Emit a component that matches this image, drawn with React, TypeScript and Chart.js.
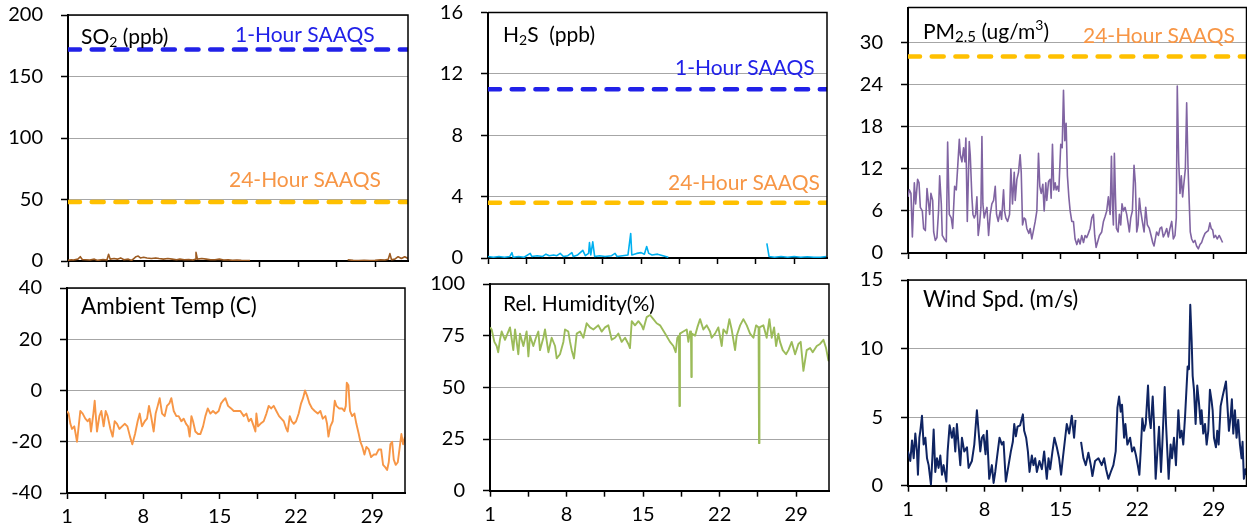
import React, { useEffect, useRef } from 'react';
import { Chart, registerables } from 'chart.js';
Chart.register(...registerables);

const W = 1247;
const H = 525;
const OFF = 30;
const EXTRA = 30;
const XAXIS_H = 40;
const FONT = 'Lato';

type Pt = [number, number | null];

// x axis (day of month)
const X_MIN = 1;
const X_MAX = 32;
const DAY_TICKS = [1, 4.5, 8, 11.5, 15, 18.5, 22, 25.5, 29];
const DAY_LABELS = [1, 8, 15, 22, 29];

// y ticks
const SO2_TICKS = [0, 50, 100, 150, 200];
const H2S_TICKS = [0, 4, 8, 12, 16];
const PM_TICKS = [0, 6, 12, 18, 24, 30];
const TEMP_TICKS = [-40, -20, 0, 20, 40];
const RH_TICKS = [0, 25, 50, 75, 100];
const WIND_TICKS = [0, 5, 10, 15];

// standards
const SO2_1H = 172;
const SO2_24H = 48;
const H2S_1H = 11;
const H2S_24H = 3.6;
const PM25_24H = 28;

const so2: Pt[] = [
  [1.0, 0.5], [1.3, 1], [1.5, 0.8], [1.9, 1.5], [2.12, 3.5], [2.3, 1.2], [2.6, 1], [3.0, 0.8], [3.4, 1.5], [3.7, 0.5],
  [4.2, 1.2], [4.55, 0.8], [4.7, 5.5], [4.85, 1.5], [5.2, 2], [5.5, 1.5], [5.8, 2.5], [6.1, 1], [6.5, 1.5], [6.8, 0.5],
  [7.0, 2], [7.2, 3.5], [7.4, 4], [7.6, 2.5], [7.9, 3], [8.2, 2.5], [8.6, 2], [9.0, 2.5], [9.3, 2], [9.7, 1.5],
  [10.1, 2], [10.5, 1.5], [10.9, 1], [11.2, 1.5], [11.6, 1], [12.0, 1.2], [12.4, 0.8], [12.6, 1.5], [12.67, 7], [12.8, 1.5],
  [13.2, 2], [13.6, 1.5], [14.0, 1], [14.4, 1], [14.8, 1.5], [15.2, 0.8], [15.6, 1], [16.0, 0.5], [16.4, 0.8], [16.8, 0.5],
  [17.2, 0.3], [17.6, 0.3], [22, null],
  [26.5, 1], [27.0, 0.5], [27.5, 0.3], [28.0, 0.5], [28.5, 0.3], [29.0, 0.5], [29.5, 1], [29.9, 0.8], [30.2, 1.5], [30.35, 6],
  [30.5, 1], [30.8, 1.5], [31.1, 3.5], [31.4, 2], [31.7, 3.5], [32.0, 2],
];

const h2s: Pt[] = [
  [1.0, 0.1], [1.5, 0.05], [2.0, 0.1], [2.5, 0.05], [3.0, 0.1], [3.19, 0.35], [3.3, 0.05], [3.8, 0.1], [4.3, 0.05], [4.86, 0.3],
  [5.0, 0.1], [5.5, 0.15], [6.0, 0.1], [6.3, 0.25], [6.6, 0.15], [7.0, 0.2], [7.3, 0.15], [7.6, 0.3], [7.9, 0.1], [8.3, 0.15],
  [8.67, 0.35], [8.8, 0.1], [9.2, 0.2], [9.67, 0.5], [9.9, 0.15], [10.2, 0.3], [10.28, 1.0], [10.4, 0.2], [10.58, 1.05], [10.75, 0.1],
  [11.2, 0.15], [11.7, 0.1], [12.3, 0.15], [12.62, 0.3], [12.8, 0.1], [13.3, 0.15], [13.8, 0.2], [14.05, 1.6], [14.15, 0.2], [14.6, 0.3],
  [15.0, 0.35], [15.3, 0.25], [15.51, 0.75], [15.7, 0.3], [16.0, 0.2], [16.5, 0.25], [17.0, 0.15], [17.49, 0.05], [22, null],
  [26.5, 0.95], [26.7, 0.1], [27.2, 0.05], [27.8, 0.1], [28.4, 0.05], [29.0, 0.1], [29.6, 0.05], [30.2, 0.08], [30.8, 0.05], [31.4, 0.05], [31.94, 0.1],
];

const pm25: Pt[] = [
  [1.00, 8], [1.12, 9], [1.27, 8.5], [1.40, 2.3], [1.58, 10], [1.70, 7], [1.88, 10.5], [2.01, 10], [2.13, 6.5], [2.31, 6],
  [2.43, 3.5], [2.59, 3.2], [2.74, 9.2], [2.89, 7], [2.98, 5.5], [3.10, 8.5], [3.26, 7.5], [3.35, 3], [3.50, 1.8], [3.65, 2.2],
  [3.80, 6], [3.90, 11], [4.05, 7], [4.14, 2.5], [4.32, 2], [4.51, 1.6], [4.63, 15.8], [4.78, 5.5], [4.96, 5], [5.09, 3.5],
  [5.27, 9.5], [5.42, 9], [5.54, 12], [5.70, 16.2], [5.79, 14], [5.94, 13], [6.09, 15], [6.21, 13], [6.30, 16.4], [6.43, 4.5],
  [6.61, 15.9], [6.70, 14], [6.85, 8], [6.95, 5.5], [7.07, 5], [7.19, 5.5], [7.31, 8], [7.43, 2.5], [7.55, 4], [7.68, 6.5],
  [7.77, 16.6], [7.86, 7], [7.98, 5], [8.13, 6], [8.23, 6.5], [8.38, 2.5], [8.53, 5.5], [8.68, 7], [8.84, 7.5], [8.99, 9.5],
  [9.11, 5.5], [9.26, 4.5], [9.45, 6], [9.57, 4.8], [9.75, 9], [9.84, 6], [9.96, 5], [10.12, 4.5], [10.30, 5.5], [10.42, 12],
  [10.57, 7], [10.73, 11.5], [10.82, 7.5], [10.97, 10.5], [11.12, 11.5], [11.27, 14], [11.37, 11.5], [11.49, 4], [11.64, 5], [11.76, 4.8],
  [11.88, 3.5], [12.07, 2.8], [12.19, 3.5], [12.34, 2], [12.49, 3.2], [12.65, 4.5], [12.80, 6], [12.95, 14.2], [13.07, 9.5], [13.20, 8.5],
  [13.35, 9.8], [13.47, 6], [13.62, 10], [13.71, 7.5], [13.87, 10.2], [14.02, 10.5], [14.11, 7.8], [14.23, 15.5], [14.35, 9], [14.48, 10],
  [14.57, 9], [14.69, 9.5], [14.81, 8.8], [14.99, 15.5], [15.12, 15], [15.24, 23.2], [15.36, 16], [15.48, 18.5], [15.60, 11], [15.73, 8],
  [15.85, 6], [16.00, 4.5], [16.15, 4.5], [16.30, 2], [16.46, 1.2], [16.61, 2], [16.76, 1.3], [16.91, 2.5], [17.07, 1.5], [17.22, 2.5],
  [17.37, 2.2], [17.52, 2.8], [17.68, 3.5], [17.83, 5], [17.98, 5.5], [18.10, 2.5], [18.23, 0.8], [18.35, 1.5], [18.53, 2.5], [18.74, 3],
  [18.90, 4.5], [19.05, 5.2], [19.20, 6], [19.35, 8], [19.51, 5.5], [19.63, 13.8], [19.72, 7], [19.81, 4], [19.90, 14.2], [20.00, 8],
  [20.09, 3.5], [20.24, 3], [20.36, 5.5], [20.48, 4], [20.60, 7], [20.73, 6], [20.88, 6.5], [21.03, 5.5], [21.18, 4], [21.27, 3],
  [21.40, 5], [21.55, 6], [21.70, 12.5], [21.82, 10], [21.95, 3], [22.07, 4], [22.19, 7.8], [22.31, 6], [22.46, 4.5], [22.62, 3],
  [22.77, 6.5], [22.92, 4], [23.10, 3.5], [23.26, 2.5], [23.41, 1.5], [23.53, 1], [23.65, 2], [23.77, 3], [23.93, 2.5], [24.08, 3.5],
  [24.23, 3.7], [24.38, 2.3], [24.54, 2.8], [24.69, 3.5], [24.84, 2.3], [24.99, 3.5], [25.15, 4.5], [25.30, 2], [25.45, 2.5], [25.57, 5],
  [25.66, 23.8], [25.79, 13], [25.91, 8.5], [26.03, 11], [26.15, 8], [26.24, 9.5], [26.40, 12], [26.52, 21.4], [26.64, 12.5], [26.76, 7],
  [26.85, 3], [26.98, 2], [27.13, 1.5], [27.28, 1.8], [27.43, 1], [27.59, 0.6], [27.74, 1.2], [27.89, 1.5], [28.04, 2.2], [28.20, 2.8],
  [28.35, 3], [28.50, 3.2], [28.65, 4.3], [28.77, 3.5], [28.90, 3.3], [29.02, 2.2], [29.17, 2.5], [29.32, 2], [29.50, 2.5], [29.66, 2],
  [29.81, 1.5],
];

const temp: Pt[] = [
  [1.00, -8], [1.15, -9], [1.31, -13], [1.46, -15], [1.67, -14], [1.92, -20], [2.22, -8], [2.44, -9], [2.68, -11], [2.90, -12],
  [3.08, -11], [3.20, -16], [3.42, -9], [3.54, -4], [3.75, -16], [3.97, -10], [4.15, -8], [4.36, -14], [4.55, -8], [4.73, -10],
  [4.98, -15], [5.19, -18], [5.37, -12], [5.59, -13], [5.80, -15], [6.05, -14], [6.29, -13], [6.54, -14], [6.78, -18], [6.99, -21],
  [7.24, -17], [7.48, -12], [7.67, -9], [7.88, -14], [8.13, -12], [8.34, -11], [8.52, -6], [8.71, -10], [8.95, -16], [9.13, -9],
  [9.32, -6], [9.50, -3], [9.72, -9], [9.96, -10], [10.17, -6], [10.39, -5], [10.57, -3], [10.79, -8], [11.03, -10], [11.24, -10],
  [11.49, -12], [11.70, -11], [11.92, -13], [12.10, -14], [12.25, -18], [12.41, -10], [12.56, -12], [12.77, -16], [13.02, -17], [13.23, -17],
  [13.48, -14], [13.69, -10], [13.91, -7], [14.15, -9], [14.39, -8], [14.64, -9], [14.91, -8], [15.13, -5], [15.31, -4], [15.53, -3],
  [15.77, -6], [16.05, -7], [16.29, -8], [16.60, -8], [16.90, -8], [17.21, -10], [17.45, -9], [17.67, -12], [17.88, -11], [18.13, -14],
  [18.28, -16], [18.37, -9], [18.52, -14], [18.74, -13], [19.04, -12], [19.29, -9], [19.50, -6], [19.72, -7], [19.96, -6], [20.20, -8],
  [20.45, -10], [20.66, -11], [20.88, -12], [21.12, -15], [21.24, -16], [21.43, -10], [21.61, -12], [21.80, -13], [22.01, -12], [22.25, -9],
  [22.47, -5], [22.65, -3], [22.83, 0], [23.02, -2], [23.23, -5], [23.48, -7], [23.72, -8], [24.00, -9], [24.24, -8], [24.46, -11],
  [24.70, -10], [24.85, -13], [24.98, -18], [25.16, -14], [25.37, -12], [25.56, -4], [25.71, -6], [25.95, -7], [26.23, -7], [26.44, -8],
  [26.57, -6], [26.66, 3], [26.81, 2], [26.96, -8], [27.15, -10], [27.36, -9], [27.54, -13], [27.76, -17], [27.91, -20], [28.09, -22],
  [28.28, -25], [28.46, -22], [28.68, -23], [28.89, -26], [29.13, -25], [29.35, -25], [29.59, -23], [29.81, -23], [29.99, -29], [30.20, -30],
  [30.36, -31], [30.51, -28], [30.66, -21], [30.82, -20], [30.97, -27], [31.15, -29], [31.34, -28], [31.52, -22], [31.67, -17], [31.83, -21],
  [32.00, -18],
];

const rh: Pt[] = [
  [1.00, 79], [1.15, 78], [1.40, 72], [1.61, 70], [1.75, 67], [1.91, 73], [2.07, 77], [2.37, 73], [2.60, 76], [2.83, 79],
  [3.13, 68], [3.29, 78], [3.59, 66], [3.74, 76], [4.05, 70], [4.35, 77], [4.51, 65], [4.66, 75], [4.96, 70], [5.20, 74],
  [5.42, 77], [5.57, 68], [5.88, 74], [6.03, 78], [6.34, 67], [6.64, 74], [6.95, 70], [7.10, 64], [7.40, 66], [7.71, 72],
  [7.86, 78], [8.16, 77], [8.32, 72], [8.47, 68], [8.68, 64], [8.93, 76], [9.23, 77], [9.54, 74], [9.84, 81], [10.15, 79],
  [10.45, 78], [10.91, 80], [11.21, 77], [11.52, 79], [11.82, 80], [12.13, 73], [12.43, 74], [12.74, 76], [13.04, 72], [13.35, 74],
  [13.65, 71], [13.80, 69], [13.96, 82], [14.26, 80], [14.57, 82], [14.87, 80], [15.02, 78], [15.33, 84], [15.63, 85], [15.94, 83],
  [16.24, 81], [16.55, 80], [17.01, 76], [17.46, 72], [17.77, 70], [17.98, 67], [18.13, 74], [18.28, 75], [18.32, 41], [18.37, 76],
  [18.68, 77], [18.99, 78], [19.14, 72], [19.29, 77], [19.38, 76], [19.41, 55], [19.45, 76], [19.75, 75], [19.96, 79], [20.21, 83],
  [20.51, 78], [20.82, 80], [21.12, 77], [21.27, 74], [21.58, 76], [21.88, 79], [22.19, 70], [22.34, 78], [22.65, 76], [22.89, 83],
  [23.10, 78], [23.41, 68], [23.56, 75], [23.87, 80], [24.17, 83], [24.48, 80], [24.78, 76], [25.09, 74], [25.33, 80], [25.56, 79],
  [25.60, 23], [25.64, 79], [26.00, 80], [26.30, 74], [26.55, 83], [26.76, 74], [26.98, 79], [27.16, 70], [27.37, 76], [27.52, 72],
  [27.77, 68], [28.07, 66], [28.29, 68], [28.59, 72], [28.90, 66], [29.20, 71], [29.41, 72], [29.66, 58], [29.96, 68], [30.27, 69],
  [30.51, 67], [30.88, 70], [31.18, 71], [31.49, 73], [31.73, 69], [31.95, 63], [32.00, 66],
];

const wind: Pt[] = [
  [1.00, 2.5], [1.21, 1.8], [1.37, 3.3], [1.52, 2.0], [1.67, 3.8], [1.82, 2.5], [1.91, 0.8], [2.04, 3.5], [2.13, 4.0], [2.28, 5.1],
  [2.43, 3.0], [2.59, 3.5], [2.74, 2.0], [2.89, 1.5], [3.10, 0.1], [3.23, 2.0], [3.35, 4.1], [3.50, 1.0], [3.65, 2.0], [3.80, 1.3],
  [3.96, 2.2], [4.11, 0.8], [4.26, 1.5], [4.51, 0.3], [4.63, 2.5], [4.81, 4.4], [5.02, 3.5], [5.18, 4.2], [5.33, 2.5], [5.48, 4.5],
  [5.63, 3.0], [5.79, 1.5], [5.94, 3.5], [6.15, 2.5], [6.40, 2.8], [6.55, 1.3], [6.85, 1.8], [7.07, 3.0], [7.31, 5.5], [7.46, 4.0],
  [7.62, 2.5], [7.77, 3.5], [7.92, 3.7], [8.10, 2.3], [8.23, 4.0], [8.44, 0.5], [8.68, 1.5], [8.84, 0.2], [8.99, 1.0], [9.14, 2.0],
  [9.38, 3.5], [9.60, 3.0], [9.75, 3.2], [9.96, 0.3], [10.21, 1.5], [10.42, 2.5], [10.60, 3.2], [10.73, 4.5], [10.88, 3.6], [11.03, 4.3],
  [11.27, 4.4], [11.52, 5.2], [11.64, 4.0], [11.82, 3.5], [11.98, 2.5], [12.13, 1.0], [12.34, 2.2], [12.49, 1.5], [12.65, 2.0], [12.80, 1.0],
  [13.04, 1.8], [13.26, 1.2], [13.47, 2.5], [13.71, 0.5], [13.87, 2.0], [14.02, 1.2], [14.23, 2.5], [14.41, 3.5], [14.63, 2.8], [14.84, 2.0],
  [15.02, 0.8], [15.18, 2.0], [15.54, 4.5], [15.76, 3.8], [16.00, 5.1], [16.21, 3.5], [16.34, 4.8], [16.6, null], [16.85, 3.2], [17.07, 2.0],
  [17.28, 1.5], [17.52, 2.4], [17.74, 1.5], [17.89, 0.7], [18.13, 1.8], [18.44, 2.0], [18.74, 1.5], [18.96, 2.0], [19.14, 1.2], [19.35, 0.5],
  [19.57, 1.0], [19.81, 1.5], [20.02, 2.5], [20.18, 5.7], [20.33, 6.5], [20.48, 5.4], [20.60, 5.9], [20.79, 3.5], [20.91, 4.5], [21.09, 3.0],
  [21.34, 3.5], [21.52, 2.5], [21.70, 2.8], [21.88, 2.2], [22.04, 1.5], [22.19, 0.8], [22.31, 2.5], [22.46, 4.9], [22.62, 4.0], [22.77, 4.5],
  [22.98, 7.3], [23.10, 5.0], [23.23, 4.2], [23.41, 6.5], [23.53, 4.5], [23.68, 0.5], [23.84, 2.5], [23.99, 4.3], [24.17, 1.0], [24.29, 3.0],
  [24.51, 7.2], [24.63, 4.5], [24.78, 2.0], [24.87, 0.5], [25.05, 3.0], [25.18, 2.0], [25.36, 3.5], [25.54, 1.5], [25.76, 5.5], [25.91, 3.5],
  [26.06, 4.0], [26.21, 3.0], [26.37, 5.0], [26.61, 8.7], [26.73, 8.5], [26.85, 13.2], [26.98, 10.5], [27.07, 8.0], [27.19, 7.0], [27.34, 4.5],
  [27.49, 7.3], [27.65, 6.0], [27.80, 4.5], [27.89, 5.5], [28.04, 3.8], [28.20, 4.5], [28.35, 3.0], [28.50, 4.0], [28.65, 7.0], [28.80, 6.2],
  [28.90, 5.5], [29.02, 3.5], [29.20, 2.8], [29.32, 4.0], [29.45, 3.0], [29.63, 5.8], [29.81, 6.5], [30.12, 7.6], [30.24, 6.0], [30.39, 4.0],
  [30.54, 5.0], [30.66, 6.3], [30.79, 3.8], [30.94, 5.5], [31.09, 3.5], [31.24, 4.8], [31.40, 3.0], [31.55, 2.0], [31.64, 3.2], [31.76, 0.5],
  [31.91, 1.2], [32.00, 0.8],
];

const BLUE = '#2121E8';
const GOLD = '#FFC000';
const ORANGE_TEXT = '#F79646';

interface TextPart { t: string; size?: number; shift?: number }
interface TextItem { dx: number; dy: number; color: string; size?: number; parts: TextPart[] }
interface PanelCfg {
  rect: { l: number; t: number; r: number; b: number };
  series: Pt[];
  color: string;
  lw: number;
  yMin: number;
  yMax: number;
  yTicks: number[];
  limits: { value: number; color: string }[];
  showX: boolean;
  texts: TextItem[];
}

const SUB = { size: 14, shift: 5 };
const SUP = { size: 14, shift: -7 };

const PANELS: PanelCfg[] = [
  {
    rect: { l: 68, t: 15, r: 408, b: 261 }, series: so2, color: '#9C5B22', lw: 1.6,
    yMin: 0, yMax: 200, yTicks: SO2_TICKS, showX: false,
    limits: [{ value: SO2_1H, color: BLUE }, { value: SO2_24H, color: GOLD }],
    texts: [
      { dx: 13, dy: 22, color: '#000', parts: [{ t: 'SO' }, { t: '2', ...SUB }, { t: ' (ppb)' }] },
      { dx: 167, dy: 20, color: BLUE, parts: [{ t: '1-Hour SAAQS' }] },
      { dx: 161, dy: 165, color: ORANGE_TEXT, parts: [{ t: '24-Hour SAAQS' }] },
    ],
  },
  {
    rect: { l: 488, t: 12.5, r: 827, b: 258 }, series: h2s, color: '#00B0F0', lw: 1.6,
    yMin: 0, yMax: 16, yTicks: H2S_TICKS, showX: false,
    limits: [{ value: H2S_1H, color: BLUE }, { value: H2S_24H, color: GOLD }],
    texts: [
      { dx: 15, dy: 22.5, color: '#000', parts: [{ t: 'H' }, { t: '2', ...SUB }, { t: 'S  (ppb)' }] },
      { dx: 187, dy: 55.5, color: BLUE, parts: [{ t: '1-Hour SAAQS' }] },
      { dx: 180, dy: 170.5, color: ORANGE_TEXT, parts: [{ t: '24-Hour SAAQS' }] },
    ],
  },
  {
    rect: { l: 908, t: 7.5, r: 1246.5, b: 253 }, series: pm25, color: '#8064A2', lw: 1.6,
    yMin: 0, yMax: 35, yTicks: PM_TICKS, showX: false,
    limits: [{ value: PM25_24H, color: GOLD }],
    texts: [
      { dx: 15, dy: 24.5, color: '#000', parts: [{ t: 'PM' }, { t: '2.5', size: 15, shift: 5 }, { t: ' (ug/m' }, { t: '3', ...SUP }, { t: ')' }] },
      { dx: 175, dy: 29, color: ORANGE_TEXT, parts: [{ t: '24-Hour SAAQS' }] },
    ],
  },
  {
    rect: { l: 67, t: 288, r: 405, b: 493 }, series: temp, color: '#F79646', lw: 1.9,
    yMin: -40, yMax: 40, yTicks: TEMP_TICKS, showX: true, limits: [],
    texts: [{ dx: 14, dy: 18.7, color: '#000', size: 22.5, parts: [{ t: 'Ambient Temp (C)' }] }],
  },
  {
    rect: { l: 490, t: 284, r: 829, b: 490.7 }, series: rh, color: '#9BBB59', lw: 1.9,
    yMin: 0, yMax: 100, yTicks: RH_TICKS, showX: true, limits: [],
    texts: [{ dx: 13, dy: 20, color: '#000', parts: [{ t: 'Rel. Humidity(%)' }] }],
  },
  {
    rect: { l: 908, t: 280, r: 1246.5, b: 485.7 }, series: wind, color: '#0F2462', lw: 2,
    yMin: 0, yMax: 15, yTicks: WIND_TICKS, showX: true, limits: [],
    texts: [{ dx: 15, dy: 20, color: '#000', size: 22.3, parts: [{ t: 'Wind Spd. (m/s)' }] }],
  },
];

const TITLE_SIZE = 21;
const TICK_SIZE = 20;

function makePlugins(texts: TextItem[]) {
  return [
    {
      id: 'frameAndText',
      afterDatasetsDraw(chart: any) {
        const { ctx, chartArea } = chart;
        ctx.save();
        ctx.strokeStyle = '#000';
        ctx.lineWidth = 1.5;
        ctx.beginPath();
        ctx.moveTo(chartArea.left, chartArea.top);
        ctx.lineTo(chartArea.right, chartArea.top);
        ctx.lineTo(chartArea.right, chartArea.bottom);
        ctx.stroke();
        ctx.textBaseline = 'middle';
        ctx.textAlign = 'left';
        for (const it of texts) {
          let x = chartArea.left + it.dx;
          const y = chartArea.top + it.dy;
          ctx.fillStyle = it.color;
          for (const p of it.parts) {
            ctx.font = `${p.size ?? it.size ?? TITLE_SIZE}px ${FONT}`;
            ctx.fillText(p.t, x, y + (p.shift ?? 0));
            x += ctx.measureText(p.t).width;
          }
        }
        ctx.restore();
      },
    },
  ];
}

function buildConfig(p: PanelCfg): any {
  const { l, t, r, b } = p.rect;
  const datasets: any[] = [
    {
      data: p.series.map(([x, y]) => ({ x, y })),
      borderColor: p.color,
      borderWidth: p.lw,
      pointRadius: 0,
      tension: 0,
      spanGaps: false,
      borderJoinStyle: 'round',
    },
    ...p.limits.map((lim) => ({
      data: [{ x: X_MIN, y: lim.value }, { x: X_MAX, y: lim.value }],
      borderColor: lim.color,
      borderWidth: 4.5,
      borderDash: [12, 11.7],
      borderCapStyle: 'round',
      pointRadius: 0,
    })),
  ];
  return {
    type: 'line',
    data: { datasets },
    options: {
      animation: false,
      responsive: false,
      devicePixelRatio: 1,
      events: [],
      layout: { padding: { left: 0, top: t + OFF, right: W - r, bottom: H + EXTRA - b - XAXIS_H } },
      plugins: { legend: { display: false }, tooltip: { enabled: false } },
      scales: {
        x: {
          type: 'linear',
          min: X_MIN,
          max: X_MAX,
          afterBuildTicks: (s: any) => { s.ticks = DAY_TICKS.map((v) => ({ value: v })); },
          afterFit: (s: any) => { s.height = XAXIS_H; },
          grid: { drawOnChartArea: false, drawTicks: true, tickLength: 6, tickColor: '#000', tickWidth: 1.5 },
          border: { display: true, color: '#000', width: 2 },
          ticks: {
            autoSkip: false, maxRotation: 0, minRotation: 0, padding: 6, color: '#000',
            font: { family: FONT, size: TICK_SIZE },
            callback: (v: number) => (p.showX && DAY_LABELS.includes(v) ? String(v) : ''),
          },
        },
        y: {
          type: 'linear',
          min: p.yMin,
          max: p.yMax,
          afterBuildTicks: (s: any) => { s.ticks = p.yTicks.map((v) => ({ value: v })); },
          afterFit: (s: any) => { s.width = l; },
          grid: { color: '#A6A6A6', lineWidth: 1, tickColor: '#000', tickLength: 7, tickWidth: 1.5, drawTicks: true },
          border: { display: true, color: '#000', width: 2 },
          ticks: {
            padding: 18, color: '#000', font: { family: FONT, size: TICK_SIZE },
            callback: (v: number) => String(v),
          },
        },
      },
    },
    plugins: makePlugins(p.texts),
  };
}

function PanelChart({ cfg }: { cfg: PanelCfg }) {
  const ref = useRef<HTMLCanvasElement>(null);
  useEffect(() => {
    const chart = new Chart(ref.current as HTMLCanvasElement, buildConfig(cfg));
    return () => chart.destroy();
  }, [cfg]);
  return (
    <canvas
      ref={ref}
      width={W}
      height={H + OFF + EXTRA}
      style={{ position: 'absolute', left: 0, top: -OFF, width: W, height: H + OFF + EXTRA }}
    />
  );
}

export default function App() {
  return (
    <div style={{ position: 'absolute', left: 0, top: 0, width: W, height: H, overflow: 'hidden', background: '#fff' }}>
      {PANELS.map((p, i) => (
        <PanelChart key={i} cfg={p} />
      ))}
    </div>
  );
}
